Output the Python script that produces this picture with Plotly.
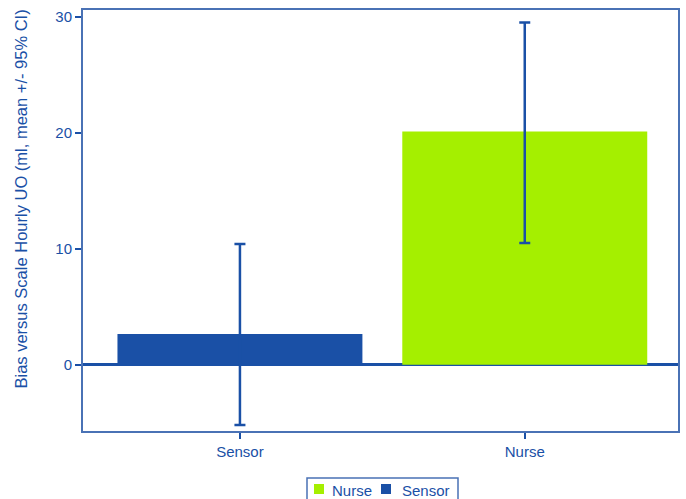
import plotly.graph_objects as go

# Bias of hourly urine output vs scale, mean with 95% CI
categories = ["Sensor", "Nurse"]
means = [2.65, 20.1]
ci_lower = [-5.2, 10.5]
ci_upper = [10.4, 29.5]
bar_colors = ["#1a50a6", "#a5ef00"]
y_ticks = [0, 10, 20, 30]
y_title = "Bias versus Scale Hourly UO (ml, mean +/- 95% CI)"

blue = "#1a50a6"
axis_blue = "#4a72b5"
font_family = "Liberation Sans, Arial, sans-serif"

W, H = 686, 499
M_L, M_R, M_T, M_B = 83, 8, 10, 68
plot_w = W - M_L - M_R
plot_h = H - M_T - M_B


def px_x(px):
    """Pixel column -> paper x."""
    return (px - M_L) / plot_w


def px_y(py):
    """Pixel row -> paper y."""
    return (H - M_B - py) / plot_h


fig = go.Figure()
for cat, m, lo, hi, col in zip(categories, means, ci_lower, ci_upper, bar_colors):
    fig.add_trace(go.Bar(
        x=[cat], y=[m], name=cat,
        marker=dict(color=col, line=dict(width=0)),
        width=0.86,
        error_y=dict(type="data", symmetric=False,
                     array=[hi - m], arrayminus=[m - lo],
                     color=blue, thickness=2.5, width=5.5),
        showlegend=False,
    ))

# Boxed legend below the axis: Nurse first, then Sensor
shapes = [dict(type="rect", xref="paper", yref="paper",
               x0=px_x(307), x1=px_x(458), y0=px_y(478), y1=px_y(512),
               line=dict(color=axis_blue, width=1.5), fillcolor="white")]
annotations = []
legend_entries = list(zip(categories, bar_colors))[::-1]
swatch_left = [314, 381]
text_left = [330, 400]
for (name, col), sx, tx in zip(legend_entries, swatch_left, text_left):
    shapes.append(dict(type="rect", xref="paper", yref="paper",
                       x0=px_x(sx), x1=px_x(sx + 10), y0=px_y(484), y1=px_y(494),
                       line=dict(width=0), fillcolor=col))
    annotations.append(dict(text=name, showarrow=False, xref="paper", yref="paper",
                            x=px_x(tx), y=px_y(490), xanchor="left", yanchor="middle",
                            font=dict(size=15, color=blue)))

annotations.append(dict(
    text=y_title, textangle=-90, showarrow=False,
    xref="paper", yref="paper", x=px_x(21), y=px_y(199.5),
    xanchor="center", yanchor="middle",
    font=dict(size=16.5, color=blue),
))

fig.update_layout(
    width=W, height=H,
    margin=dict(l=M_L, r=M_R, t=M_T, b=M_B, autoexpand=False),
    paper_bgcolor="white", plot_bgcolor="white",
    barmode="overlay",
    font=dict(family=font_family, size=15, color=blue),
    showlegend=False,
    xaxis=dict(
        range=[-0.551, 1.538], showline=True, linecolor=axis_blue, linewidth=2,
        mirror=True, ticks="outside", ticklen=6, tickcolor=blue, tickwidth=2,
        showgrid=False, tickfont=dict(size=15, color=blue),
    ),
    yaxis=dict(
        range=[-5.72, 30.58], tickvals=y_ticks, showline=True, linecolor=axis_blue,
        linewidth=2, mirror=True, ticks="outside", ticklen=6, tickcolor=blue,
        tickwidth=2, showgrid=False, zeroline=True, zerolinecolor=blue,
        zerolinewidth=2.5, tickfont=dict(size=15, color=blue),
    ),
    shapes=shapes,
    annotations=annotations,
)

fig.write_html("out.html")
